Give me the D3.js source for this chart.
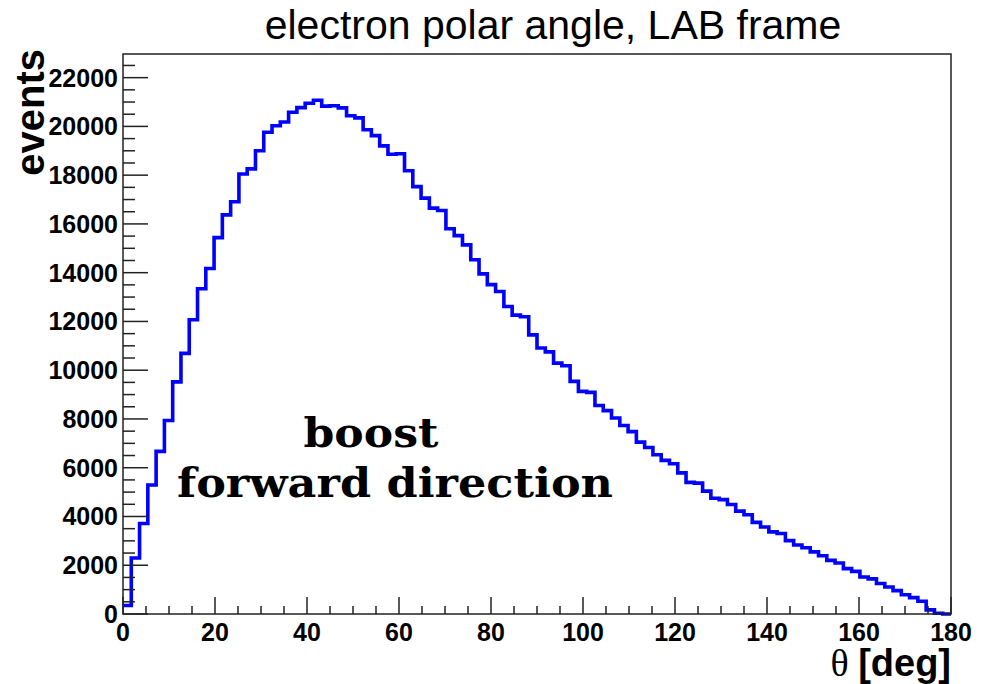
<!DOCTYPE html>
<html>
<head>
<meta charset="utf-8">
<script src="https://cdn.jsdelivr.net/npm/d3@7"></script>
<style>
  body { margin: 0; background: #fff; }
  svg { display: block; }
  .tick-label { font-family: "Liberation Sans", Arial, sans-serif; font-weight: bold; font-size: 25px; fill: #000; }
</style>
</head>
<body>
<svg id="chart" width="990" height="684"></svg>
<script>
// histogram: electron polar angle, 100 bins from 0 to 180 deg
var binLow = 0;
var binHigh = 180;
var binCounts = [
  350, 2300, 3710, 5290, 6670, 7940, 9520, 10690, 12070, 13340,
  14170, 15440, 16370, 16910, 18050, 18260, 19000, 19760, 20030, 20180,
  20580, 20770, 20950, 21070, 20830, 20850, 20760, 20440, 20350, 19860,
  19620, 19200, 18860, 18880, 18180, 17530, 17060, 16650, 16550, 15800,
  15520, 15140, 14530, 13950, 13510, 13230, 12610, 12260, 12190, 11450,
  10910, 10750, 10290, 10180, 9540, 9130, 9090, 8550, 8340, 8040,
  7730, 7480, 7050, 6830, 6530, 6300, 6160, 5790, 5400, 5370,
  5040, 4750, 4690, 4490, 4220, 4070, 3760, 3570, 3370, 3300,
  3010, 2830, 2720, 2550, 2390, 2200, 2090, 1860, 1750, 1520,
  1440, 1250, 1110, 960, 790, 670, 520, 170, 30, 0
];
var yMax = 22970;
var xTickValues = [0, 20, 40, 60, 80, 100, 120, 140, 160, 180];
var yTickValues = [0, 2000, 4000, 6000, 8000, 10000, 12000, 14000, 16000, 18000, 20000, 22000];
var titleText = 'electron polar angle, LAB frame';
var yTitleText = 'events';
var noteLines = ['boost', 'forward direction'];

var margin = { top: 54, right: 39, bottom: 70, left: 123 };
var width = 990 - margin.left - margin.right;
var height = 684 - margin.top - margin.bottom;

var svg = d3.select('#chart');
var g = svg.append('g')
  .attr('transform', 'translate(' + margin.left + ',' + margin.top + ')');

var x = d3.scaleLinear().domain([binLow, binHigh]).range([0, width]);
var y = d3.scaleLinear().domain([0, yMax]).range([height, 0]);

var binWidth = (binHigh - binLow) / binCounts.length;

/**
 * Histogram outline
 */
var stepPoints = [];
binCounts.forEach(function (c, i) {
  stepPoints.push([binLow + i * binWidth, c]);
  stepPoints.push([binLow + (i + 1) * binWidth, c]);
});

var drawStep = d3.line()
  .x(function (d) { return x(d[0]); })
  .y(function (d) { return y(d[1]); });

g.append('path')
  .datum(stepPoints)
  .attr('d', drawStep)
  .attr('fill', 'none')
  .attr('stroke', '#0000ff')
  .attr('stroke-width', 3.6)
  .attr('stroke-linejoin', 'miter');

///////////
// FRAME
g.append('rect')
  .attr('x', 0)
  .attr('y', 0)
  .attr('width', width)
  .attr('height', height)
  .attr('fill', 'none')
  .attr('stroke', '#222')
  .attr('stroke-width', 1.5);

///////////
// AXES (ticks pointing inside, like ROOT)
var xMinor = d3.range(binLow, binHigh + 0.1, 5);
g.append('g')
  .selectAll('line')
  .data(xMinor)
  .enter()
  .append('line')
  .attr('x1', function (d) { return x(d); })
  .attr('x2', function (d) { return x(d); })
  .attr('y1', height)
  .attr('y2', function (d) { return height - (d % 20 === 0 ? 17 : 8); })
  .attr('stroke', '#222')
  .attr('stroke-width', 1.5);

var yMinor = d3.range(0, yMax, 500);
g.append('g')
  .selectAll('line')
  .data(yMinor)
  .enter()
  .append('line')
  .attr('x1', 0)
  .attr('x2', function (d) { return d % 2000 === 0 ? 25 : 12; })
  .attr('y1', function (d) { return y(d); })
  .attr('y2', function (d) { return y(d); })
  .attr('stroke', '#222')
  .attr('stroke-width', 1.5);

g.append('g')
  .selectAll('text')
  .data(xTickValues)
  .enter()
  .append('text')
  .attr('class', 'tick-label')
  .attr('x', function (d) { return x(d); })
  .attr('y', height + 27)
  .attr('text-anchor', 'middle')
  .text(function (d) { return d; });

g.append('g')
  .selectAll('text')
  .data(yTickValues)
  .enter()
  .append('text')
  .attr('class', 'tick-label')
  .attr('x', -5)
  .attr('y', function (d) { return y(d); })
  .attr('dy', '0.36em')
  .attr('text-anchor', 'end')
  .text(function (d) { return d; });

///////////
// TITLES
svg.append('text')
  .attr('x', 553)
  .attr('y', 39)
  .attr('text-anchor', 'middle')
  .style('font-family', '"Liberation Sans", Arial, sans-serif')
  .style('font-size', '41px')
  .text(titleText);

svg.append('text')
  .attr('transform', 'translate(44,49) rotate(-90)')
  .attr('text-anchor', 'end')
  .style('font-family', '"Liberation Sans", Arial, sans-serif')
  .style('font-weight', 'bold')
  .style('font-size', '40px')
  .text(yTitleText);

var xTitle = svg.append('text')
  .attr('x', margin.left + width)
  .attr('y', 676)
  .attr('text-anchor', 'end')
  .style('font-size', '38px');
xTitle.append('tspan')
  .style('font-family', '"Liberation Serif", "Times New Roman", serif')
  .text('\u03b8 ');
xTitle.append('tspan')
  .style('font-family', '"Liberation Sans", Arial, sans-serif')
  .style('font-weight', 'bold')
  .text('[deg]');

///////////
// NOTE
var noteX = [371, 395];
var noteLength = [135, 436];
svg.append('g')
  .selectAll('text')
  .data(noteLines)
  .enter()
  .append('text')
  .attr('x', function (d, i) { return noteX[i] - noteLength[i] / 2; })
  .attr('y', function (d, i) { return 447 + i * 50; })
  .attr('textLength', function (d, i) { return noteLength[i]; })
  .attr('lengthAdjust', 'spacingAndGlyphs')
  .style('font-family', '"DejaVu Serif", "Liberation Serif", serif')
  .style('font-weight', 'bold')
  .style('font-size', '41px')
  .text(function (d) { return d; });
</script>
</body>
</html>
